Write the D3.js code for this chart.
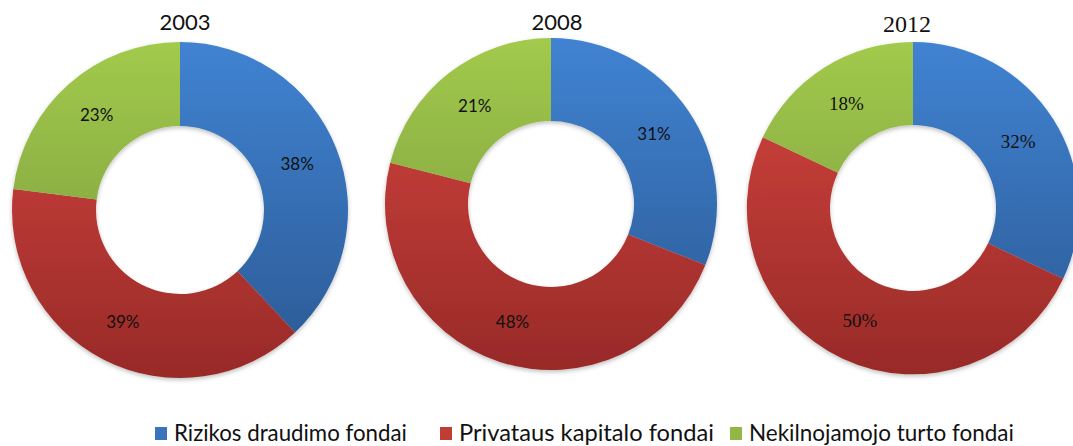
<!DOCTYPE html>
<html>
<head>
<meta charset="utf-8">
<script src="https://cdn.jsdelivr.net/npm/d3@7"></script>
<style>
  body { margin: 0; background: #fff; }
  svg { display: block; }
</style>
</head>
<body>
<div id="placeholder"></div>
<script>
// data
var years = ["2003", "2008", "2012"]
var categories = ["Rizikos draudimo fondai", "Privataus kapitalo fondai", "Nekilnojamojo turto fondai"]
var rizikos = [38, 31, 32]
var privataus = [39, 48, 50]
var nekilnojamojo = [23, 21, 18]

// layout of the three donuts (the 2012 one came from another document, serif font)
var layout = [
    { cx: 180, cy: 210, r: 168, titleX: 185, titleY: 30, font: "Lato", titleSize: 22, labelSize: 17 },
    { cx: 551, cy: 204, r: 166, titleX: 557, titleY: 30, font: "Lato", titleSize: 22, labelSize: 17 },
    { cx: 913, cy: 208, r: 166, titleX: 907, titleY: 32, font: "Liberation Serif", titleSize: 24, labelSize: 19 }
]
var colors = [
    { top: "#4083d2", bottom: "#2b5892" },
    { top: "#d6453f", bottom: "#982a28" },
    { top: "#a2ca4c", bottom: "#74933a" }
]

var width = 1073, height = 446

var svg = d3.select("#placeholder")
    .append("svg")
    .attr("width", width)
    .attr("height", height)

var defs = svg.append("defs")

var shadow = defs.append("filter")
    .attr("id", "shadow")
    .attr("x", "-10%").attr("y", "-10%")
    .attr("width", "120%").attr("height", "120%")
shadow.append("feDropShadow")
    .attr("dx", 0).attr("dy", 2)
    .attr("stdDeviation", 2)
    .attr("flood-color", "#000")
    .attr("flood-opacity", 0.25)

var pie = d3.pie().sort(null).value(function (d) { return d })

years.forEach(function (year, i) {
    var L = layout[i]
    var values = [rizikos[i], privataus[i], nekilnojamojo[i]]

    // vertical gradient for each series, spanning the ring (group coords)
    colors.forEach(function (c, k) {
        var grad = defs.append("linearGradient")
            .attr("id", "g" + i + "_" + k)
            .attr("gradientUnits", "userSpaceOnUse")
            .attr("x1", 0).attr("x2", 0)
            .attr("y1", -L.r).attr("y2", L.r)
        grad.append("stop").attr("offset", "0%").attr("stop-color", c.top)
        grad.append("stop").attr("offset", "100%").attr("stop-color", c.bottom)
    })

    var arc = d3.arc().innerRadius(L.r * 0.5).outerRadius(L.r)
    var labelArc = d3.arc().innerRadius(L.r * 0.75).outerRadius(L.r * 0.75)

    var g = svg.append("g")
        .attr("transform", "translate(" + L.cx + "," + L.cy + ")")

    var arcs = pie(values)

    g.append("g")
        .attr("filter", "url(#shadow)")
        .selectAll("path")
        .data(arcs)
        .enter()
        .append("path")
        .attr("d", arc)
        .style("fill", function (d, k) { return "url(#g" + i + "_" + k + ")" })

    g.selectAll("text.lbl")
        .data(arcs)
        .enter()
        .append("text")
        .attr("class", "lbl")
        .attr("x", function (d) { return labelArc.centroid(d)[0] })
        .attr("y", function (d) { return labelArc.centroid(d)[1] })
        .attr("dy", "0.35em")
        .attr("text-anchor", "middle")
        .attr("font-family", L.font)
        .attr("font-size", L.labelSize + "px")
        .attr("fill", "#111")
        .text(function (d) { return d.data + "%" })

    //Add title to graph
    svg.append("text")
        .attr("x", L.titleX)
        .attr("y", L.titleY)
        .attr("text-anchor", "middle")
        .attr("font-family", L.font)
        .attr("font-size", L.titleSize + "px")
        .attr("fill", "#111")
        .text(year)
})

// legend
var legendX = [155, 440, 730]
var legendW = [233, 255, 265]
var legend = svg.append("g")
categories.forEach(function (name, k) {
    legend.append("rect")
        .attr("x", legendX[k])
        .attr("y", 427)
        .attr("width", 12)
        .attr("height", 13)
        .style("fill", d3.interpolateRgb(colors[k].top, colors[k].bottom)(0.35))
    var t = legend.append("text")
        .attr("x", legendX[k] + 19)
        .attr("y", 441)
        .attr("font-family", "Lato")
        .attr("font-size", "20px")
        .attr("fill", "#111")
        .text(name)
    var w = t.node().getComputedTextLength()
    t.attr("font-size", (20 * legendW[k] / w).toFixed(2) + "px")
})
</script>
</body>
</html>
